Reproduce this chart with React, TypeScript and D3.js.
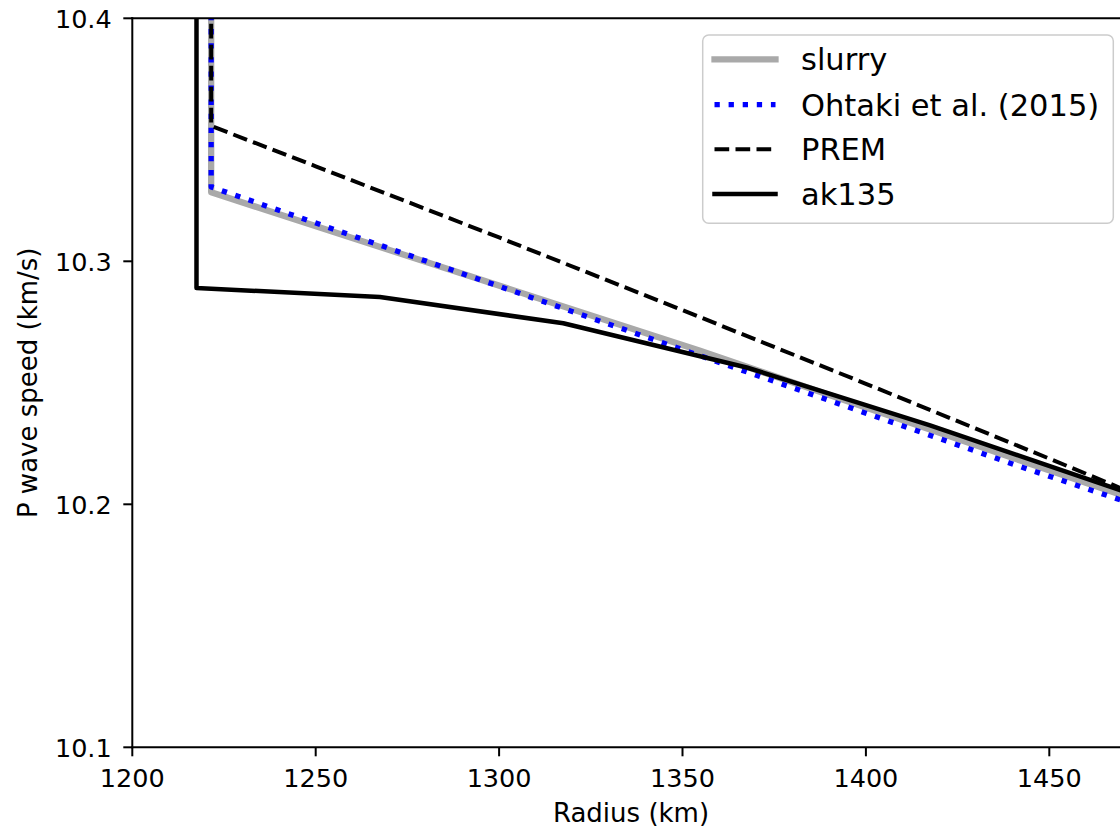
import React from "react";
import * as d3 from "d3";

// Data
const slurryR = [1221.5, 1221.5, 1354.8, 1442.1, 1480];
const slurryV = [10.5, 10.3284, 10.2632, 10.218, 10.1985];

const ohtakiR = [1221.5, 1221.5, 1336.7, 1442.1, 1480];
const ohtakiV = [10.5, 10.3306, 10.2706, 10.2155, 10.1965];

const premR = [1221.5, 1221.5, 1250, 1300, 1350, 1400, 1450, 1480];
const premV = [11.02, 10.3557, 10.3391, 10.3098, 10.2799, 10.2496, 10.2188, 10.2001];

const ak135R = [1217.5, 1217.5, 1267.5, 1317.5, 1367.5, 1417.5, 1467.5, 1517.5];
const ak135V = [11.04, 10.289, 10.2853, 10.2745, 10.2563, 10.2325, 10.2068, 10.181];

const xTicks = [1200, 1250, 1300, 1350, 1400, 1450];
const yTicks = [10.1, 10.2, 10.3, 10.4];
const yTickLabels = ["10.1", "10.2", "10.3", "10.4"];

const legendLabels = ["slurry", "Ohtaki et al. (2015)", "PREM", "ak135"];

const W = 1120;
const H = 829;
const L = 132.3;
const R = 1130;
const T = 18.3;
const B = 747.3;

const x = d3.scaleLinear().domain([1200, 1472]).range([L, R]);
const y = d3.scaleLinear().domain([10.1, 10.4]).range([B, T]);

const FONT = "DejaVu Sans, sans-serif";

function mk(rs: number[], vs: number[]) {
  const pts = rs.map((r, i) => [r, vs[i]] as [number, number]);
  return d3
    .line<[number, number]>()
    .x((d) => x(d[0]))
    .y((d) => y(d[1]))(pts) as string;
}

const styles = [
  { stroke: "#a9a9a9", width: 6.3, dash: undefined as string | undefined, cap: "square" },
  { stroke: "#0000ff", width: 5.3, dash: "5.3 8.8", cap: "butt" },
  { stroke: "#000000", width: 4, dash: "14.7 6.3", cap: "butt" },
  { stroke: "#000000", width: 4.5, dash: undefined as string | undefined, cap: "square" },
];

const series = [
  mk(slurryR, slurryV),
  mk(ohtakiR, ohtakiV),
  mk(premR, premV),
  mk(ak135R, ak135V),
];

export default function App() {
  const legX = 702.7;
  const legY = 35;
  const legW = 410.6;
  const legH = 188.3;
  const rowY = [59.3, 104.7, 149.3, 194];
  return (
    <svg
      width={W}
      height={H}
      style={{ position: "absolute", left: 0, top: 0, background: "#fff" }}
      fontFamily={FONT}
    >
      <rect x={0} y={0} width={W} height={H} fill="#fff" />
      <defs>
        <clipPath id="plotclip">
          <rect x={L} y={T} width={R - L} height={B - T} />
        </clipPath>
      </defs>
      <g clipPath="url(#plotclip)">
        {series.map((d, i) => (
          <path
            key={i}
            d={d}
            fill="none"
            stroke={styles[i].stroke}
            strokeWidth={styles[i].width}
            strokeDasharray={styles[i].dash}
            strokeLinecap={styles[i].cap as any}
            strokeLinejoin="round"
          />
        ))}
      </g>
      {/* spines */}
      <line x1={L} y1={T} x2={L} y2={B} stroke="#000" strokeWidth={2} strokeLinecap="square" />
      <line x1={L} y1={B} x2={R} y2={B} stroke="#000" strokeWidth={2} strokeLinecap="square" />
      <line x1={L} y1={T} x2={R} y2={T} stroke="#000" strokeWidth={2} strokeLinecap="square" />
      <line x1={R} y1={T} x2={R} y2={B} stroke="#000" strokeWidth={2} />
      {/* x ticks */}
      {xTicks.map((t) => (
        <g key={t}>
          <line x1={x(t)} x2={x(t)} y1={B} y2={B + 9} stroke="#000" strokeWidth={2} />
          <text x={x(t)} y={786.5} textAnchor="middle" fontSize={25.5} fill="#000">
            {t}
          </text>
        </g>
      ))}
      {/* y ticks */}
      {yTicks.map((t, i) => (
        <g key={t}>
          <line x1={L - 9} x2={L} y1={y(t)} y2={y(t)} stroke="#000" strokeWidth={2} />
          <text x={111.7} y={y(t) + 9.3} textAnchor="end" fontSize={25.5} fill="#000">
            {yTickLabels[i]}
          </text>
        </g>
      ))}
      <text x={631} y={822} textAnchor="middle" fontSize={26} fill="#000">
        Radius (km)
      </text>
      <text
        transform={`translate(36.5, ${(T + B) / 2}) rotate(-90)`}
        textAnchor="middle"
        fontSize={26}
        fill="#000"
      >
        P wave speed (km/s)
      </text>
      {/* legend */}
      <rect
        x={legX}
        y={legY}
        width={legW}
        height={legH}
        rx={6}
        ry={6}
        fill="#fff"
        fillOpacity={0.8}
        stroke="#cccccc"
        strokeWidth={1.5}
      />
      {legendLabels.map((lab, i) => (
        <g key={lab}>
          <line
            x1={714.5}
            x2={775.5}
            y1={rowY[i]}
            y2={rowY[i]}
            stroke={styles[i].stroke}
            strokeWidth={styles[i].width}
            strokeDasharray={styles[i].dash}
            strokeLinecap={styles[i].cap as any}
          />
          <text x={801} y={rowY[i] + 11} fontSize={30.5} fill="#000">
            {lab}
          </text>
        </g>
      ))}
    </svg>
  );
}
